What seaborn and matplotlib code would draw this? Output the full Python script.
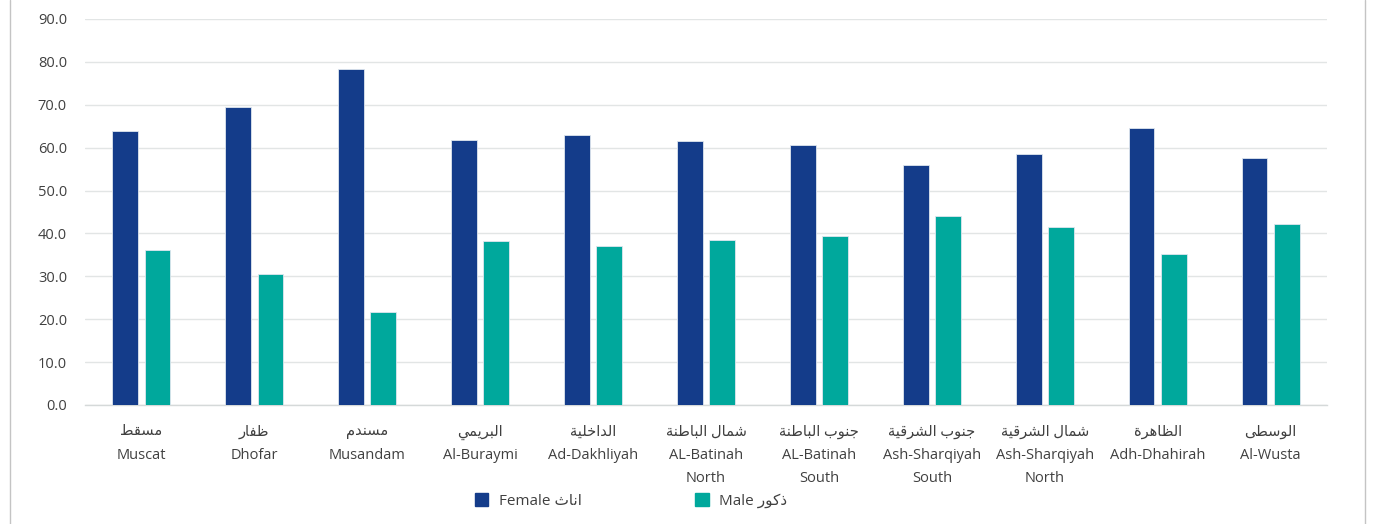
import numpy as np
import pandas as pd
import matplotlib
matplotlib.use("Agg")
import matplotlib.pyplot as plt
from matplotlib.lines import Line2D
from matplotlib.patches import Patch
import seaborn as sns

# data
regions_ar = ["مسقط", "ظفار", "مسندم", "البريمي", "الداخلية", "شمال الباطنة",
              "جنوب الباطنة", "جنوب الشرقية", "شمال الشرقية", "الظاهرة", "الوسطى"]
regions_en = ["Muscat", "Dhofar", "Musandam", "Al-Buraymi", "Ad-Dakhliyah",
              "AL-Batinah\nNorth", "AL-Batinah\nSouth", "Ash-Sharqiyah\nSouth",
              "Ash-Sharqiyah\nNorth", "Adh-Dhahirah", "Al-Wusta"]
female = [63.9, 69.5, 78.4, 61.8, 63.0, 61.5, 60.7, 56.0, 58.5, 64.7, 57.7]
male = [36.1, 30.5, 21.6, 38.2, 37.0, 38.5, 39.3, 44.0, 41.5, 35.3, 42.3]
series_ar = {"Female": "اناث", "Male": "ذكور"}

# tiny arabic shaper (matplotlib has no bidi / contextual forms)
DUAL = {'ب': 0xFE8F, 'ت': 0xFE95, 'ث': 0xFE99, 'ج': 0xFE9D, 'ح': 0xFEA1, 'خ': 0xFEA5,
        'س': 0xFEB1, 'ش': 0xFEB5, 'ص': 0xFEB9, 'ض': 0xFEBD, 'ط': 0xFEC1, 'ظ': 0xFEC5,
        'ع': 0xFEC9, 'غ': 0xFECD, 'ف': 0xFED1, 'ق': 0xFED5, 'ك': 0xFED9, 'ل': 0xFEDD,
        'م': 0xFEE1, 'ن': 0xFEE5, 'ه': 0xFEE9, 'ي': 0xFEF1}
RIGHT = {'ا': 0xFE8D, 'ة': 0xFE93, 'د': 0xFEA9, 'ذ': 0xFEAB, 'ر': 0xFEAD, 'ز': 0xFEAF,
         'و': 0xFEED, 'ى': 0xFEEF}


def shape_ar(text):
    out = []
    for i, ch in enumerate(text):
        if ch not in DUAL and ch not in RIGHT:
            out.append(ch)
            continue
        prev = text[i - 1] if i > 0 else ''
        nxt = text[i + 1] if i + 1 < len(text) else ''
        jp = prev in DUAL
        jn = ch in DUAL and (nxt in DUAL or nxt in RIGHT)
        base = DUAL.get(ch, RIGHT.get(ch))
        if jp and jn:
            code = base + 3
        elif jp:
            code = base + 1
        elif jn:
            code = base + 2
        else:
            code = base
        out.append(chr(code))
    return ''.join(reversed(out))


df = pd.DataFrame({
    "region": regions_en * 2,
    "gender": ["Female"] * len(female) + ["Male"] * len(male),
    "value": female + male,
})

sns.set_style("white")
plt.rcParams['font.family'] = ['Open Sans', 'DejaVu Sans']

txt = "#404040"
colors = {"Female": "#143c8a", "Male": "#00a89c"}

fig = plt.figure(figsize=(13.81, 5.24), dpi=100)
ax = fig.add_axes([85 / 1381, 119 / 524, 1242 / 1381, 386 / 524])

sns.barplot(data=df, x="region", y="value", hue="gender", order=regions_en,
            hue_order=["Female", "Male"], palette=colors, saturation=1,
            width=0.57, gap=0.2, edgecolor="#dfe6ee", linewidth=0.6,
            legend=False, ax=ax, zorder=3)

ax.set_ylim(0, 90)
ax.set_xlim(-0.5, len(regions_en) - 0.5)
ax.set_yticks(np.arange(0, 91, 10))
ax.set_yticklabels([f"{v:.1f}" for v in np.arange(0, 91, 10)], color=txt, fontsize=10.5)
ax.set_xticks(range(len(regions_en)))
ax.set_xticklabels([shape_ar(a) + "\n" + e for a, e in zip(regions_ar, regions_en)],
                   color=txt, fontsize=10.5, linespacing=1.75, va="top")
ax.tick_params(axis="y", length=0, pad=13)
ax.tick_params(axis="x", length=0, pad=14)
ax.set_xlabel("")
ax.set_ylabel("")
ax.grid(axis="y", color="#e2e5e5", linewidth=1, zorder=0)
ax.set_axisbelow(True)
for s in ["top", "right", "left"]:
    ax.spines[s].set_visible(False)
ax.spines["bottom"].set_color("#d5d9d9")
ax.spines["bottom"].set_linewidth(1)

handles = [Patch(facecolor=colors[g], edgecolor=colors[g]) for g in ["Female", "Male"]]
labels = [g + " " + shape_ar(series_ar[g]) for g in ["Female", "Male"]]
fig.legend(handles, labels, loc="center", bbox_to_anchor=(631 / 1381, 1 - 501 / 524),
           ncol=2, frameon=False, fontsize=11, labelcolor=txt, columnspacing=7.4,
           handlelength=0.9, handleheight=0.9, handletextpad=0.7)

# outer frame lines
for xp in [9.5 / 1381, 1364.5 / 1381]:
    fig.add_artist(Line2D([xp, xp], [0, 1], transform=fig.transFigure,
                          color="#c4c4c4", linewidth=1))

fig.savefig("out.png", dpi=100)
